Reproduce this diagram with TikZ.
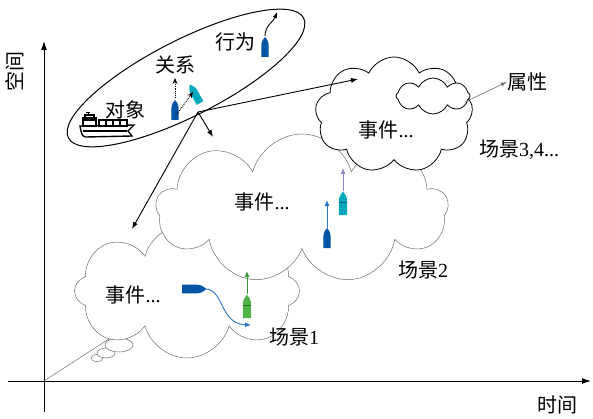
\documentclass[tikz,border=0pt]{standalone}
\usepackage{fontspec}
\setmainfont{Liberation Serif}
\newfontfamily\cjk{Noto Sans CJK SC}
\usetikzlibrary{shapes.symbols, arrows.meta}
\definecolor{shipblue}{RGB}{0, 84, 166}
\definecolor{shipcyan}{RGB}{0, 168, 190}
\definecolor{shipgreen}{RGB}{80, 178, 72}
\definecolor{trackblue}{RGB}{40, 120, 200}
\definecolor{trackgreen}{RGB}{60, 150, 60}
\definecolor{trackpurple}{RGB}{150, 130, 200}
\definecolor{cloudgray}{RGB}{110, 110, 110}

\tikzset{
  lbl/.style={font=\fontsize{20}{24}\selectfont, inner sep=0pt},
  scene/.style={cloud, cloud puffs=8, cloud puff arc=150, cloud ignores aspect,
    draw=cloudgray, line width=0.5pt, fill=white, inner sep=0pt},
  link/.style={line width=0.9pt, -{Latex[length=7pt,width=5pt]}},
  vessel/.pic={
    \fill[pic actions] (-4,0) -- (-4,13) .. controls (-4,18) and (-1,21) .. (0,22)
      .. controls (1,21) and (4,18) .. (4,13) -- (4,0) -- cycle;
  },
}

\begin{document}
\begin{tikzpicture}[x=1pt, y=1pt]
\useasboundingbox (0,0) rectangle (593,418);

% Axes
\coordinate (o) at (44,37);
\coordinate (ybot) at (44,6);
\coordinate (ytop) at (44,377);
\coordinate (xleft) at (8,37);
\coordinate (xright) at (591,37);
\draw[line width=1pt, -{Latex[length=9pt,width=6pt]}] (ybot) -- (ytop);
\draw[line width=1pt, -{Latex[length=9pt,width=6pt]}] (xleft) -- (xright);
\node[lbl, rotate=90] (space) at (15,346) {\cjk 空间};
\node[lbl] (time) at (557,13) {\cjk 时间};

% Thought bubbles leading to the first scene
\coordinate (tail) at (115,83);
\draw[cloudgray, line width=0.5pt] (o) -- (tail);
\draw[cloudgray, line width=0.5pt, fill=white] (97,60) ellipse (6 and 3.5);
\draw[cloudgray, line width=0.5pt, fill=white] (106,65) ellipse (9 and 5);
\draw[cloudgray, line width=0.5pt, fill=white] (119,73) ellipse (14 and 7);

% Scenes
\node[scene, minimum width=225, minimum height=134] (s1) at (187,127) {};
\node[scene, cloud puffs=9, minimum width=292, minimum height=150] (s2) at (302,209) {};
\node[scene, draw=black, line width=0.8pt, cloud puffs=9, cloud puff arc=130,
  minimum width=158, minimum height=116] (s3) at (394,303) {};
\node[scene, draw=black, line width=0.8pt, cloud puff arc=130,
  minimum width=74, minimum height=36] (attr) at (433,322) {};

\node[lbl] (ev1) at (133,123) {{\cjk 事件}...};
\node[lbl] (ev2) at (262,216) {{\cjk 事件}...};
\node[lbl] (ev3) at (386,288) {{\cjk 事件}...};
\node[lbl] (sc1) at (294,81) {{\cjk 场景}1};
\node[lbl] (sc2) at (423,148) {{\cjk 场景}2};
\node[lbl] (sc3) at (519,268) {{\cjk 场景}3,4...};
\node[lbl] (prop) at (527,336) {\cjk 属性};

\coordinate (attrout) at (465,316);
\draw[cloudgray, line width=0.6pt, -{Latex[length=6pt,width=4pt]}] (attrout) -- (prop.west);

% Group of object, relation and behaviour
\draw[line width=1pt, rotate around={27:(186,340)}] (186,340) ellipse (132 and 38);
\coordinate (hub) at (198,306);
\coordinate (s1in) at (132,189);
\coordinate (s2in) at (213,281);
\coordinate (s3in) at (358,339);
\draw[link] (hub) -- (s1in);
\draw[link] (hub) -- (s2in);
\draw[link] (hub) -- (s3in);

\node[lbl] (obj) at (125,308) {\cjk 对象};
\node[lbl] (rel) at (175,353) {\cjk 关系};
\node[lbl] (act) at (235,376) {\cjk 行为};

% Cargo ship
\begin{scope}[shift={(80,280)}]
  \draw[line width=1.4pt, fill=white] (0,12) -- (54,13) -- (48,7) -- (52,2) -- (6,1)
    .. controls (2,2) .. cycle;
  \draw[line width=1.2pt] (3,7) -- (47,7);
  \draw[line width=1.2pt, fill=white] (3,12) rectangle (16,20);
  \fill (3,17) rectangle (16,20);
  \draw[line width=1.2pt, fill=white] (5,20) rectangle (14,23);
  \draw[line width=0.8pt] (8,23) -- (8,26) (6,26) -- (10,26);
  \foreach \i in {0,1,2,3} {
    \draw[line width=1.2pt, fill=white] (19+7*\i,12) rectangle (26+7*\i,18);
  }
\end{scope}

% Relation: two ships
\pic[fill=shipblue, scale=0.9] at (175,298) {vessel};
\pic[fill=shipcyan, rotate=29, scale=0.95] at (200,315) {vessel};
\coordinate (relbow) at (175,320);
\coordinate (relup) at (175,340);
\coordinate (relmid) at (177,304);
\coordinate (relside) at (193,326);
\draw[densely dotted, line width=0.9pt, -{Stealth[length=6pt,width=5pt]}] (relbow) -- (relup);
\draw[densely dotted, line width=0.9pt, -{Stealth[length=6pt,width=5pt]}] (relmid) -- (relside);

% Behaviour: ship turning
\pic[fill=shipblue, scale=0.9] at (265,361) {vessel};
\coordinate (actbow) at (265,382);
\coordinate (actend) at (277,406);
\draw[line width=0.9pt, -{Latex[length=6pt,width=4.5pt]}] (actbow) to[out=90, in=250] (actend);

% Ships in scene 2
\pic[fill=shipblue, scale=0.9] at (327,170) {vessel};
\coordinate (b2bow) at (327,190);
\coordinate (b2end) at (327,218);
\draw[trackblue, line width=1pt, -{Latex[length=6pt,width=5pt]}] (b2bow) -- (b2end);
\pic[fill=shipcyan, scale=1.05] at (343,203) {vessel};
\draw[shipcyan!60!black, line width=0.4pt] (339,216) -- (347,216);
\coordinate (c2bow) at (343,227);
\coordinate (c2end) at (343,250);
\draw[trackpurple, line width=1pt, -{Latex[length=6pt,width=5pt]}] (c2bow) -- (c2end);

% Ships in scene 1
\pic[fill=shipblue, rotate=-90, scale=1.1] at (182,129) {vessel};
\coordinate (b1bow) at (206,129);
\coordinate (b1end) at (251,93);
\draw[trackblue, line width=0.9pt, -{Latex[length=6pt,width=5pt]}] (b1bow)
  .. controls (224,128) and (220,94) .. (b1end);
\pic[fill=shipgreen, scale=1.05] at (247,100) {vessel};
\draw[shipgreen!60!black, line width=0.4pt] (243,113) -- (251,113);
\coordinate (g1bow) at (247,124);
\coordinate (g1end) at (247,147);
\draw[trackgreen, line width=1pt, -{Latex[length=6pt,width=5pt]}] (g1bow) -- (g1end);
\end{tikzpicture}
\end{document}
